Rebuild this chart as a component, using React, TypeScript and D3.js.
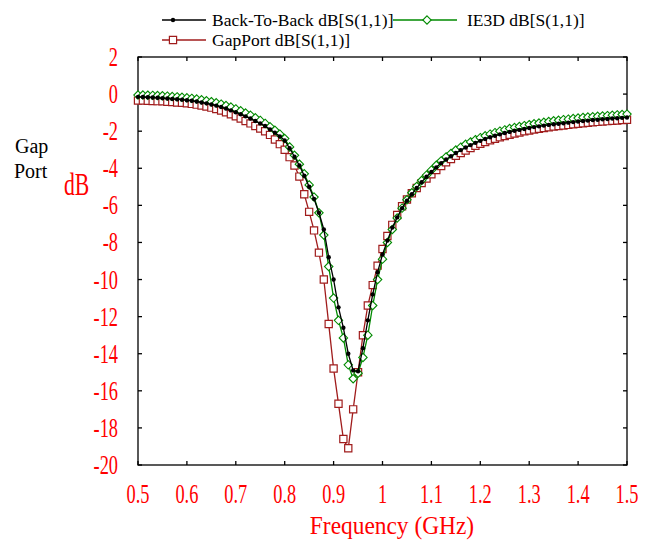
import { useRef, useEffect } from 'react';
import * as d3 from 'd3';

const SVG_WIDTH = 667;
const SVG_HEIGHT = 548;
const margin = { left: 138, right: 40, top: 57, bottom: 83 };

const BLACK = '#000000';
const GREEN = '#008a00';
const DARK_RED = '#a01c1c';
const LABEL_RED = '#ff0000';
const SERIF = '"Liberation Serif", "DejaVu Serif", serif';

// frequency points (GHz)
const freq = [
  0.5, 0.51, 0.52, 0.53, 0.54, 0.55, 0.56, 0.57, 0.58, 0.59,
  0.6, 0.61, 0.62, 0.63, 0.64, 0.65, 0.66, 0.67, 0.68, 0.69,
  0.7, 0.71, 0.72, 0.73, 0.74, 0.75, 0.76, 0.77, 0.78, 0.79,
  0.8, 0.81, 0.82, 0.83, 0.84, 0.85, 0.86, 0.87, 0.88, 0.89,
  0.9, 0.91, 0.92, 0.93, 0.94, 0.95, 0.96, 0.97, 0.98, 0.99,
  1.0, 1.01, 1.02, 1.03, 1.04, 1.05, 1.06, 1.07, 1.08, 1.09,
  1.1, 1.11, 1.12, 1.13, 1.14, 1.15, 1.16, 1.17, 1.18, 1.19,
  1.2, 1.21, 1.22, 1.23, 1.24, 1.25, 1.26, 1.27, 1.28, 1.29,
  1.3, 1.31, 1.32, 1.33, 1.34, 1.35, 1.36, 1.37, 1.38, 1.39,
  1.4, 1.41, 1.42, 1.43, 1.44, 1.45, 1.46, 1.47, 1.48, 1.49,
  1.5,
];

const backToBack = [
  -0.15, -0.16, -0.17, -0.18, -0.2, -0.22, -0.24, -0.26, -0.28, -0.3,
  -0.33, -0.36, -0.4, -0.45, -0.5, -0.56, -0.62, -0.7, -0.78, -0.88,
  -0.98, -1.09, -1.2, -1.32, -1.45, -1.58, -1.72, -1.9, -2.08, -2.28,
  -2.5, -2.92, -3.38, -3.85, -4.4, -5.0, -5.65, -6.4, -7.3, -8.8,
  -10.0, -11.5, -12.6, -14.0, -14.9, -14.95, -13.7, -12.2, -10.8, -9.6,
  -8.65, -7.9, -7.2, -6.65, -6.15, -5.75, -5.4, -5.06, -4.75, -4.46,
  -4.2, -3.95, -3.72, -3.53, -3.35, -3.18, -3.02, -2.88, -2.75, -2.63,
  -2.52, -2.42, -2.33, -2.25, -2.17, -2.1, -2.04, -1.98, -1.93, -1.88,
  -1.83, -1.78, -1.74, -1.7, -1.66, -1.63, -1.6, -1.57, -1.54, -1.51,
  -1.48, -1.45, -1.43, -1.4, -1.38, -1.36, -1.34, -1.32, -1.3, -1.28,
  -1.26,
];

const ie3d = [
  -0.05, -0.05, -0.06, -0.07, -0.08, -0.09, -0.11, -0.13, -0.15, -0.17,
  -0.2, -0.23, -0.27, -0.31, -0.36, -0.41, -0.47, -0.54, -0.62, -0.7,
  -0.8, -0.9, -1.02, -1.14, -1.28, -1.42, -1.58, -1.76, -1.95, -2.16,
  -2.4, -2.85, -3.3, -3.78, -4.3, -4.9, -5.55, -6.4, -7.6, -9.3,
  -11.0, -12.2, -13.15, -14.6, -15.35, -15.05, -14.2, -13.0, -11.4, -10.0,
  -8.9, -8.0, -7.3, -6.68, -6.15, -5.7, -5.32, -4.98, -4.66, -4.37,
  -4.1, -3.84, -3.6, -3.39, -3.2, -3.02, -2.86, -2.71, -2.58, -2.46,
  -2.35, -2.25, -2.16, -2.08, -2.0, -1.93, -1.86, -1.8, -1.75, -1.7,
  -1.65, -1.6, -1.56, -1.52, -1.48, -1.44, -1.41, -1.38, -1.35, -1.32,
  -1.29, -1.26, -1.24, -1.22, -1.2, -1.18, -1.16, -1.14, -1.12, -1.1,
  -1.08,
];

const gapPort = [
  -0.35, -0.35, -0.36, -0.37, -0.38, -0.39, -0.41, -0.43, -0.45, -0.47,
  -0.5, -0.53, -0.57, -0.62, -0.67, -0.73, -0.8, -0.89, -0.98, -1.09,
  -1.2, -1.32, -1.45, -1.58, -1.72, -1.86, -2.0, -2.2, -2.45, -2.7,
  -3.0, -3.4, -3.85, -4.45, -5.4, -6.35, -7.35, -8.55, -10.0, -12.4,
  -14.8, -16.7, -18.6, -19.1, -17.0, -15.0, -13.0, -11.4, -10.3, -9.25,
  -8.35, -7.65, -7.05, -6.52, -6.05, -5.68, -5.35, -5.06, -4.8, -4.55,
  -4.32, -4.09, -3.88, -3.68, -3.5, -3.33, -3.18, -3.04, -2.91, -2.79,
  -2.68, -2.58, -2.49, -2.41, -2.33, -2.26, -2.19, -2.13, -2.07, -2.01,
  -1.96, -1.91, -1.87, -1.83, -1.79, -1.75, -1.72, -1.69, -1.66, -1.63,
  -1.6, -1.57, -1.55, -1.52, -1.5, -1.48, -1.46, -1.44, -1.42, -1.4,
  -1.38,
];

const xTicks = [0.5, 0.6, 0.7, 0.8, 0.9, 1, 1.1, 1.2, 1.3, 1.4, 1.5];
const yTicks = [2, 0, -2, -4, -6, -8, -10, -12, -14, -16, -18, -20];

const squarePath = (s) => `M${-s},${-s}H${s}V${s}H${-s}Z`;
const diamondPath = (s) => `M0,${-s}L${s},0L0,${s}L${-s},0Z`;

const drawMarker = (g, kind, color) => {
  if (kind === 'circle') {
    g.append('circle').attr('r', 2.2).attr('fill', color);
  } else if (kind === 'square') {
    g.append('path').attr('d', squarePath(3.6)).attr('fill', 'white').attr('stroke', color).attr('stroke-width', 1.2);
  } else {
    g.append('path').attr('d', diamondPath(4.2)).attr('fill', 'white').attr('stroke', color).attr('stroke-width', 1.1);
  }
};

const App = () => {
  const svgRef = useRef(null);
  const width = SVG_WIDTH - margin.left - margin.right;
  const height = SVG_HEIGHT - margin.top - margin.bottom;

  useEffect(() => {
    const root = d3.select(svgRef.current);
    root.selectAll('*').remove();

    const x = d3.scaleLinear().domain([0.5, 1.5]).range([0, width]);
    const y = d3.scaleLinear().domain([-20, 2]).range([height, 0]);

    const svg = root.append('g').attr('transform', `translate(${margin.left},${margin.top})`);

    // frame with inward ticks on all sides
    svg.append('rect')
      .attr('width', width).attr('height', height)
      .attr('fill', 'none').attr('stroke', 'black').attr('stroke-width', 1.3);

    const ticks = svg.append('g').attr('stroke', 'black').attr('stroke-width', 1.3);
    xTicks.forEach((t) => {
      ticks.append('line').attr('x1', x(t)).attr('x2', x(t)).attr('y1', height).attr('y2', height - 4);
      ticks.append('line').attr('x1', x(t)).attr('x2', x(t)).attr('y1', 0).attr('y2', 4);
    });
    yTicks.forEach((t) => {
      ticks.append('line').attr('x1', 0).attr('x2', 4).attr('y1', y(t)).attr('y2', y(t));
      ticks.append('line').attr('x1', width).attr('x2', width - 4).attr('y1', y(t)).attr('y2', y(t));
    });

    // tick labels (tall, narrow serif)
    xTicks.forEach((t) => {
      svg.append('text')
        .attr('transform', `translate(${x(t)},${height + 38}) scale(0.68,1)`)
        .attr('text-anchor', 'middle')
        .attr('font-family', SERIF).attr('font-size', 27)
        .attr('fill', LABEL_RED)
        .text(String(t));
    });
    yTicks.forEach((t) => {
      svg.append('text')
        .attr('transform', `translate(-20,${y(t) + 9}) scale(0.68,1)`)
        .attr('text-anchor', 'end')
        .attr('font-family', SERIF).attr('font-size', 27)
        .attr('fill', LABEL_RED)
        .text(String(t));
    });

    // axis titles
    root.append('text')
      .attr('transform', `translate(392,534) scale(0.9,1)`)
      .attr('text-anchor', 'middle')
      .attr('font-family', SERIF).attr('font-size', 26)
      .attr('fill', LABEL_RED)
      .text('Frequency (GHz)');
    root.append('text')
      .attr('transform', `translate(64,195) scale(0.7,1)`)
      .attr('font-family', SERIF).attr('font-size', 31)
      .attr('fill', LABEL_RED)
      .text('dB');
    root.append('text')
      .attr('x', 15).attr('y', 153)
      .attr('font-family', SERIF).attr('font-size', 20)
      .attr('fill', 'black')
      .text('Gap');
    root.append('text')
      .attr('x', 14).attr('y', 178)
      .attr('font-family', SERIF).attr('font-size', 20)
      .attr('fill', 'black')
      .text('Port');

    // series, red underneath, black dots on top
    const series = [
      { name: 'GapPort dB[S(1,1)]', values: gapPort, color: DARK_RED, marker: 'square' },
      { name: 'IE3D dB[S(1,1)]', values: ie3d, color: GREEN, marker: 'diamond' },
      { name: 'Back-To-Back dB[S(1,1)]', values: backToBack, color: BLACK, marker: 'circle' },
    ];

    const line = d3.line().x((d) => x(d[0])).y((d) => y(d[1]));

    series.forEach((s) => {
      const pts = freq.map((f, i) => [f, s.values[i]]);
      svg.append('path')
        .datum(pts)
        .attr('d', line)
        .attr('fill', 'none')
        .attr('stroke', s.color)
        .attr('stroke-width', 1.3);
      pts.forEach((p) => {
        const g = svg.append('g').attr('transform', `translate(${x(p[0])},${y(p[1])})`);
        drawMarker(g, s.marker, s.color);
      });
    });

    // legend
    const legend = [
      { name: 'Back-To-Back dB[S(1,1)]', color: BLACK, marker: 'circle', x1: 162, x2: 206, mx: 173, y: 20, tx: 212 },
      { name: 'IE3D dB[S(1,1)]', color: GREEN, marker: 'diamond', x1: 393, x2: 457, mx: 427, y: 20, tx: 467 },
      { name: 'GapPort dB[S(1,1)]', color: DARK_RED, marker: 'square', x1: 162, x2: 206, mx: 173, y: 40, tx: 212 },
    ];
    legend.forEach((l) => {
      root.append('line')
        .attr('x1', l.x1).attr('x2', l.x2).attr('y1', l.y).attr('y2', l.y)
        .attr('stroke', l.color).attr('stroke-width', 1.3);
      drawMarker(root.append('g').attr('transform', `translate(${l.mx},${l.y})`), l.marker, l.color);
      root.append('text')
        .attr('x', l.tx).attr('y', l.y + 6)
        .attr('font-family', SERIF).attr('font-size', 17.5)
        .attr('fill', 'black')
        .text(l.name);
    });
  }, []);

  return (
    <svg
      ref={svgRef}
      width={SVG_WIDTH}
      height={SVG_HEIGHT}
      style={{ position: 'absolute', left: 0, top: 0, background: 'white' }}
    />
  );
};

export default App;
